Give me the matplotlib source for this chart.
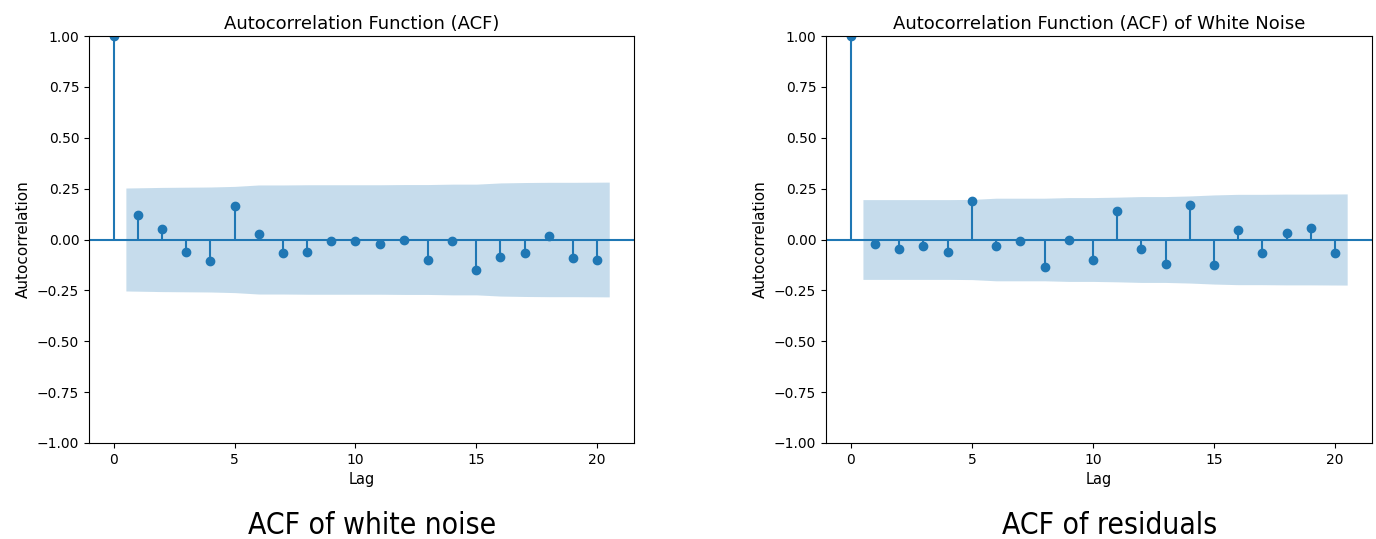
import numpy as np
import matplotlib
matplotlib.use("Agg")
import matplotlib.pyplot as plt

lags = np.arange(0, 21)

# ACF values (lag 0 .. 20)
acf_white = [1.0, 0.118, 0.053, -0.061, -0.105, 0.167, 0.026, -0.066, -0.061, -0.008, -0.008,
             -0.023, -0.002, -0.100, -0.008, -0.149, -0.084, -0.066, 0.015, -0.089, -0.100]
acf_resid = [1.0, -0.023, -0.046, -0.030, -0.061, 0.189, -0.030, -0.008, -0.133, -0.003, -0.100,
             0.140, -0.046, -0.122, 0.168, -0.127, 0.048, -0.068, 0.031, 0.058, -0.068]

# confidence band half widths (lag 1 .. 20)
band_white = [0.253, 0.256, 0.257, 0.258, 0.261, 0.268, 0.268, 0.269, 0.269, 0.269,
              0.269, 0.270, 0.270, 0.272, 0.272, 0.278, 0.280, 0.281, 0.281, 0.282]
band_resid = [0.196, 0.196, 0.196, 0.196, 0.197, 0.203, 0.203, 0.203, 0.206, 0.206,
              0.208, 0.211, 0.211, 0.214, 0.219, 0.222, 0.222, 0.223, 0.223, 0.224]

titles = ["Autocorrelation Function (ACF)", "Autocorrelation Function (ACF) of White Noise"]
captions = ["ACF of white noise", "ACF of residuals"]

fig = plt.figure(figsize=(13.76, 5.39), dpi=100)
W, H = 1376, 539
boxes = [(89, 36, 634, 443), (826, 36, 1372, 443)]

for (x0, y0, x1, y1), acf, band, title, cap in zip(boxes, [acf_white, acf_resid],
                                                   [band_white, band_resid], titles, captions):
    ax = fig.add_axes([x0 / W, 1 - y1 / H, (x1 - x0) / W, (y1 - y0) / H])
    c = "#1f77b4"
    ax.axhline(0, color=c, lw=1.5, zorder=1)
    ax.vlines(lags, 0, acf, color=c, lw=1.5)
    ax.plot(lags, acf, "o", color=c, ms=6)
    bx = lags[1:].astype(float)
    bx[0] -= 0.5
    bx[-1] += 0.5
    b = np.array(band)
    ax.fill_between(bx, -b, b, alpha=0.25, color=c, lw=0)
    ax.set_ylim(-1, 1)
    ax.set_xlim(-1.025, 21.525)
    ax.set_yticks(np.arange(-1, 1.01, 0.25))
    ax.set_xticks([0, 5, 10, 15, 20])
    ax.set_title(title, fontsize=13, pad=5)
    ax.set_xlabel("Lag", fontsize=10.5)
    ax.set_ylabel("Autocorrelation", fontsize=11)
    fig.text(((x0 + x1) / 2 + 11) / W, 1 - 525 / H, cap, ha="center", va="center",
             fontsize=21.5, family="DejaVu Sans", stretch="condensed")

fig.savefig("out.png", dpi=100)
